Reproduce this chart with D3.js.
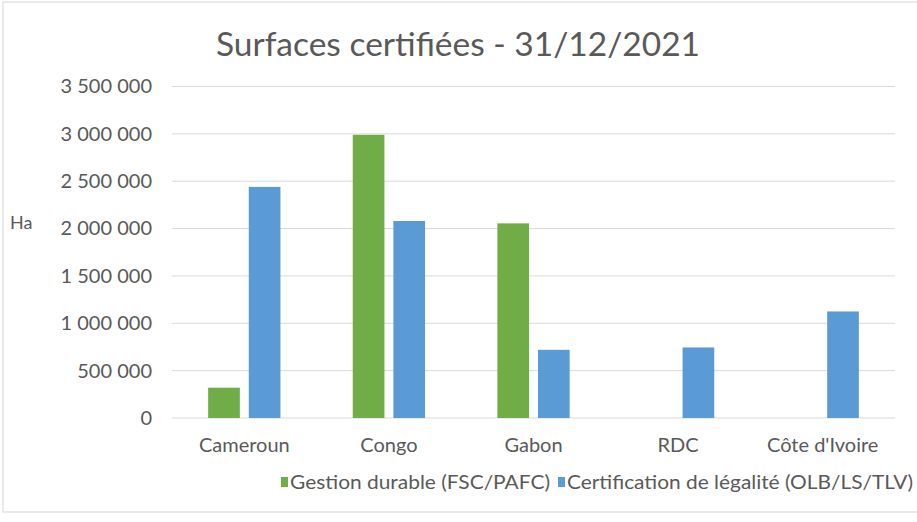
<!DOCTYPE html>
<html><head><meta charset="utf-8">
<script src="https://cdn.jsdelivr.net/npm/d3@7"></script>
<style>body{margin:0;background:#fff}svg{display:block}text{font-family:Lato,"Open Sans",sans-serif;fill:#595959}</style>
</head><body><svg id="c" width="917" height="522"></svg>
<script>
const title = "Surfaces certifiées - 31/12/2021";
const yLabel = "Ha";
const categories = ["Cameroun", "Congo", "Gabon", "RDC", "Côte d'Ivoire"];
const seriesNames = ["Gestion durable (FSC/PAFC)", "Certification de légalité (OLB/LS/TLV)"];
const gestionDurable = [320000, 2990000, 2055000, null, null];
const certLegalite = [2440000, 2080000, 720000, 745000, 1125000];
const yTicks = [0, 500000, 1000000, 1500000, 2000000, 2500000, 3000000, 3500000];
const colors = ["#70AD47", "#5B9BD5"];

const svg = d3.select("#c");
svg.append("rect").attr("x",3).attr("y",2).attr("width",930).attr("height",510)
  .attr("fill","none").attr("stroke","#e3e3e3").attr("stroke-width",1.5);

const m = {left:172, right:895, top:86.5, bottom:418};
const x0 = d3.scaleBand().domain(categories).range([m.left, m.right]).paddingInner(0.5).paddingOuter(0.25);
const x1 = d3.scaleBand().domain(seriesNames).range([0, x0.bandwidth()]).paddingInner(0.22);
const y = d3.scaleLinear().domain([0, 3500000]).range([m.bottom, m.top]);

const fmt = v => d3.format(",")(v).replace(/,/g, " ");

svg.append("g").selectAll("line").data(yTicks).join("line")
  .attr("x1", m.left).attr("x2", m.right)
  .attr("y1", d => y(d)).attr("y2", d => y(d))
  .attr("stroke", "#d9d9d9").attr("stroke-width", 1);

const yAxis = d3.axisLeft(y).tickValues(yTicks).tickFormat(fmt).tickSize(0).tickPadding(0);
const ya = svg.append("g").attr("transform", `translate(${m.left - 20},0)`).call(yAxis);
ya.select(".domain").remove();
ya.selectAll("text").attr("font-size", 20).attr("fill", "#595959").style("font-family","Lato");

const xAxis = d3.axisBottom(x0).tickSize(0).tickPadding(0);
const xa = svg.append("g").attr("transform", `translate(0,${m.bottom + 20})`).call(xAxis);
xa.select(".domain").remove();
xa.selectAll("text").attr("font-size", 20).attr("fill", "#595959").style("font-family","Lato");

const data = categories.map((c, i) => ({cat: c, vals: [gestionDurable[i], certLegalite[i]]}));
const groups = svg.append("g").selectAll("g").data(data).join("g")
  .attr("transform", d => `translate(${x0(d.cat)},0)`);
groups.selectAll("rect").data(d => d.vals.map((v, j) => ({v, s: seriesNames[j], j})).filter(e => e.v != null))
  .join("rect")
  .attr("x", e => x1(e.s)).attr("width", x1.bandwidth())
  .attr("y", e => y(e.v)).attr("height", e => y(0) - y(e.v))
  .attr("fill", e => colors[e.j]);

svg.append("text").attr("x", 458).attr("y", 56).attr("text-anchor", "middle")
  .attr("font-size", 33.5).text(title);

svg.append("text").attr("x", 10).attr("y", 229).attr("font-size", 18).text(yLabel);

const leg = svg.append("g");
const legX = [281, 558];
const legW = [260, 346];
seriesNames.forEach((s, i) => {
  leg.append("rect").attr("x", legX[i]).attr("y", 477).attr("width", 7).attr("height", 10).attr("fill", colors[i]);
  leg.append("text").attr("x", legX[i] + 9).attr("y", 489).attr("font-size", 20)
    .attr("textLength", legW[i]).attr("lengthAdjust", "spacingAndGlyphs").text(s);
});
</script></body></html>
